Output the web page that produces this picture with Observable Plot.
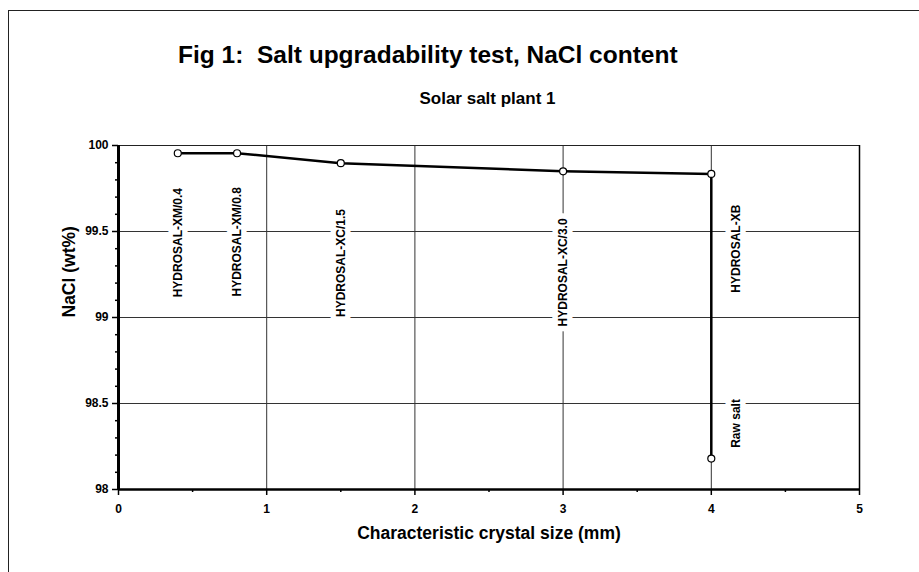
<!DOCTYPE html>
<html><head><meta charset="utf-8">
<script src="https://cdn.jsdelivr.net/npm/d3@7"></script>
<script src="https://cdn.jsdelivr.net/npm/@observablehq/plot@0.6"></script>
<style>
html,body{margin:0;padding:0;background:#fff;overflow:hidden;}
body{width:919px;height:572px;position:relative;font-family:"Liberation Sans",Arial,sans-serif;}
#border{position:absolute;left:8px;top:10px;width:2000px;height:2000px;border-left:1px solid #222;border-top:1px solid #222;}
#title{position:absolute;left:178px;top:43px;font-size:24.5px;line-height:24.5px;font-weight:bold;white-space:pre;}
#subtitle{position:absolute;left:0;width:975px;text-align:center;top:90px;font-size:17px;line-height:17px;font-weight:bold;}
#chart{position:absolute;left:0;top:115px;}
</style></head><body>
<div id="border"></div>
<div id="title">Fig 1:  Salt upgradability test, NaCl content</div>
<div id="subtitle">Solar salt plant 1</div>
<div id="chart"></div>
<script>
// Data
const crystalSize = [0.4, 0.8, 1.5, 3.0, 4.0, 4.0];
const naclContent = [99.955, 99.955, 99.897, 99.85, 99.835, 98.18];

const labelTexts = ["HYDROSAL-XM/0.4", "HYDROSAL-XM/0.8", "HYDROSAL-XC/1.5", "HYDROSAL-XC/3.0", "HYDROSAL-XB", "Raw salt"];
const labelX = [0.4, 0.8, 1.5, 3.0, 4.17, 4.17];
const labelY = [99.435, 99.44, 99.317, 99.262, 99.40, 98.384];

const xTicks = [0, 1, 2, 3, 4, 5];
const xTickLabels = ["0", "1", "2", "3", "4", "5"];
const xMinorTicks = [0.5, 1.5, 2.5, 3.5, 4.5];
const xGrid = [1, 2, 3, 4];

const yTicks = [98, 98.5, 99, 99.5, 100];
const yTickLabels = ["98", "98.5", "99", "99.5", "100"];
const yMinorTicks = [98.1, 98.2, 98.3, 98.4, 98.6, 98.7, 98.8, 98.9, 99.1, 99.2, 99.3, 99.4, 99.6, 99.7, 99.8, 99.9];
const yGrid = [98.5, 99, 99.5];

const xTitle = "Characteristic crystal size (mm)";
const yTitle = "NaCl (wt%)";

const points = crystalSize.map((x, i) => ({x, y: naclContent[i]}));
const labels = labelTexts.map((t, i) => ({t, x: labelX[i], y: labelY[i]}));

const chart = Plot.plot({
  width: 919,
  height: 450,
  marginLeft: 118,
  marginRight: 60,
  marginTop: 30,
  marginBottom: 76,
  style: {fontFamily: "'Liberation Sans', Arial, sans-serif", fontSize: "12px", fontWeight: "bold", background: "transparent", color: "black"},
  x: {domain: [0, 5], label: null},
  y: {domain: [98, 100], label: null},
  marks: [
    Plot.ruleX(xGrid, {stroke: "#333", strokeWidth: 1}),
    Plot.ruleY(yGrid, {stroke: "#333", strokeWidth: 1}),
    Plot.text(labels, {x: "x", y: "y", text: "t", rotate: -90, fontSize: 12, fontWeight: "bold", fill: "black", stroke: "white", strokeWidth: 11, paintOrder: "stroke", strokeLinejoin: "round"}),
    Plot.frame({stroke: "#222", strokeWidth: 1}),
    Plot.ruleX([xTicks[xTicks.length - 1]], {stroke: "black", strokeWidth: 1.5}),
    Plot.ruleX([xTicks[0]], {stroke: "black", strokeWidth: 3}),
    Plot.ruleY([yTicks[0]], {stroke: "black", strokeWidth: 2.5}),
    Plot.axisX(xTicks, {tickSize: 6, tickPadding: 9, strokeWidth: 1.5, tickFormat: (d, i) => xTickLabels[i]}),
    Plot.axisX(xMinorTicks, {tickSize: 3, strokeWidth: 1.5, tickFormat: () => ""}),
    Plot.axisY(yTicks, {tickSize: 6, tickPadding: 4, strokeWidth: 1.5, tickFormat: (d, i) => yTickLabels[i]}),
    Plot.axisY(yMinorTicks, {tickSize: 3, strokeWidth: 1.5, tickFormat: () => ""}),
    Plot.line(points, {x: "x", y: "y", stroke: "black", strokeWidth: 2.5}),
    Plot.dot(points, {x: "x", y: "y", r: 3.5, fill: "white", stroke: "black", strokeWidth: 1.2}),
    Plot.text([yTitle], {frameAnchor: "left", dx: -49, rotate: -90, fontSize: 17.5, fontWeight: "bold", fill: "black"}),
    Plot.text([xTitle], {frameAnchor: "bottom", dy: 49.4, fontSize: 17.5, fontWeight: "bold", fill: "black"})
  ]
});
document.getElementById("chart").appendChild(chart);
</script>
</body></html>
